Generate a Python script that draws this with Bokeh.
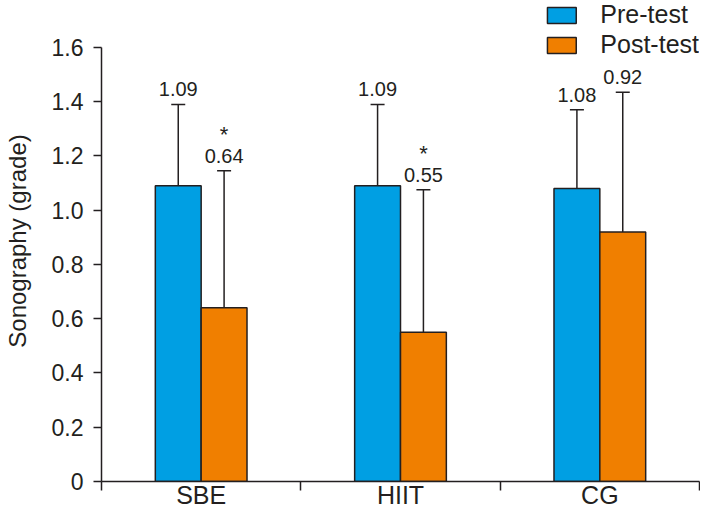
from bokeh.plotting import figure
from bokeh.models import (ColumnDataSource, FixedTicker, Whisker, TeeHead, LabelSet, Range1d, Legend, LegendItem)
from bokeh.core.properties import value
from bokeh.embed import file_html
from bokeh.resources import INLINE

categories = ["SBE", "HIIT", "CG"]
pre_mean = [1.09, 1.09, 1.08]
pre_upper = [1.39, 1.39, 1.37]
pre_lower = [0.79, 0.785, 0.80]
post_mean = [0.64, 0.55, 0.92]
post_upper = [1.145, 1.075, 1.435]
post_lower = [0.14, 0.035, 0.405]
post_sig = ["*", "*", ""]
y_ticks = [0, 0.2, 0.4, 0.6, 0.8, 1.0, 1.2, 1.4, 1.6]
y_tick_labels = ["0", "0.2", "0.4", "0.6", "0.8", "1.0", "1.2", "1.4", "1.6"]

FONT = "Liberation Sans"
INK = "#231f20"
BLUE = "#009fe3"
ORANGE = "#f07f00"
BAR_W = 0.23

n = len(categories)
centers = [i + 0.5 for i in range(n)]

pre_src = ColumnDataSource(dict(
    x=[c - BAR_W / 2 for c in centers], top=pre_mean, upper=pre_upper, lower=pre_lower,
    label=[f"{v:.2f}" for v in pre_mean]))
post_src = ColumnDataSource(dict(
    x=[c + BAR_W / 2 for c in centers], top=post_mean, upper=post_upper, lower=post_lower,
    label=[f"{v:.2f}" for v in post_mean], sig=post_sig))

p = figure(width=700, height=511, output_backend="svg", toolbar_location=None,
           x_range=Range1d(0, n), y_range=Range1d(0, 1.7729),
           min_border_left=101, min_border_right=1, min_border_top=0, min_border_bottom=29)
p.outline_line_color = None
p.xgrid.grid_line_color = None
p.ygrid.grid_line_color = None
p.background_fill_color = None
p.border_fill_color = "white"

r_pre = p.vbar(x="x", top="top", width=BAR_W, source=pre_src, fill_color=BLUE,
               line_color=INK, line_width=1.5)
r_post = p.vbar(x="x", top="top", width=BAR_W, source=post_src, fill_color=ORANGE,
                line_color=INK, line_width=1.5)

for src in (pre_src, post_src):
    w = Whisker(base="x", upper="upper", lower="lower", source=src, line_color=INK, line_width=1.5,
                upper_head=TeeHead(size=14, line_color=INK, line_width=1.5),
                lower_head=TeeHead(size=14, line_color=INK, line_width=1.5))
    p.add_layout(w)
    p.add_layout(LabelSet(x="x", y="upper", text="label", source=src, y_offset=8,
                          text_align="center", text_baseline="alphabetic",
                          text_font=value(FONT), text_font_size=value("20px"), text_color=INK))
p.add_layout(LabelSet(x="x", y="upper", text="sig", source=post_src, y_offset=29,
                      text_align="center", text_baseline="alphabetic",
                      text_font=value(FONT), text_font_size=value("22px"), text_color=INK))

# axes
xa = p.xaxis[0]
xa.ticker = FixedTicker(ticks=centers, minor_ticks=list(range(n + 1)))
xa.major_label_overrides = {c: lab for c, lab in zip(centers, categories)}
xa.major_tick_out = 0
xa.major_tick_in = 0
xa.minor_tick_out = 9
xa.minor_tick_in = 0
xa.minor_tick_line_color = INK
xa.minor_tick_line_width = 1.5
xa.axis_line_color = INK
xa.axis_line_width = 1.5
xa.major_label_text_font = FONT
xa.major_label_text_font_size = "25px"
xa.major_label_text_color = INK
xa.major_label_standoff = -10
xa.bounds = (0, n)

ya = p.yaxis[0]
ya.ticker = FixedTicker(ticks=y_ticks, minor_ticks=[])
ya.major_label_overrides = {t: lab for t, lab in zip(y_ticks, y_tick_labels)}
ya.major_tick_out = 8
ya.major_tick_in = 0
ya.major_tick_line_color = INK
ya.major_tick_line_width = 1.5
ya.minor_tick_out = 0
ya.minor_tick_in = 0
ya.axis_line_color = INK
ya.axis_line_width = 1.5
ya.major_label_text_font = FONT
ya.major_label_text_font_size = "23px"
ya.major_label_text_color = INK
ya.major_label_standoff = 10
ya.axis_label = "Sonography (grade)"
ya.axis_label_text_font = FONT
ya.axis_label_text_font_size = "24px"
ya.axis_label_text_font_style = "normal"
ya.axis_label_text_color = INK
ya.axis_label_standoff = 18
ya.bounds = (0, 1.6)

legend = Legend(items=[LegendItem(label="Pre-test", renderers=[r_pre]),
                       LegendItem(label="Post-test", renderers=[r_post])],
                location="top_right", margin=0, padding=0, spacing=1,
                glyph_width=36, glyph_height=20, label_standoff=21,
                label_text_font=FONT, label_text_font_size="25px", label_text_color=INK,
                border_line_alpha=0, background_fill_alpha=0)
p.add_layout(legend)

open("out.html", "w").write(file_html(p, INLINE))
